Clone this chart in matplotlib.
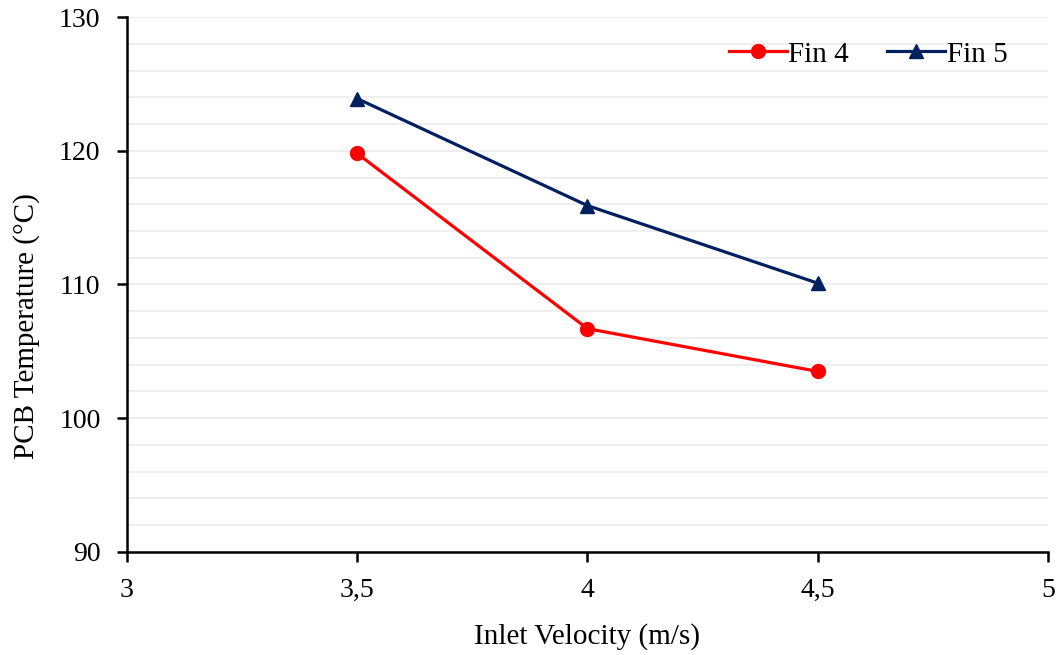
import matplotlib
matplotlib.use("Agg")
import matplotlib.pyplot as plt
from matplotlib.ticker import FuncFormatter, MultipleLocator

velocity = [3.5, 4.0, 4.5]
fin4 = [119.8, 106.7, 103.5]
fin5 = [123.9, 115.9, 110.1]

plt.rcParams["font.family"] = ["Liberation Serif", "DejaVu Serif"]

fig = plt.figure(figsize=(10.58, 6.55), dpi=100)
ax = fig.add_axes([0.120, 0.1573, 0.8705, 0.8167])

ax.plot(velocity, fin4, "-o", color="#ff0000", lw=2.3, ms=10, label="Fin 4", zorder=3)
ax.plot(velocity, fin5, "-^", color="#002060", lw=2.3, ms=10, label="Fin 5", zorder=3)

ax.set_xlim(3, 5); ax.set_ylim(90, 130)
ax.xaxis.set_major_locator(MultipleLocator(0.5))
ax.yaxis.set_major_locator(MultipleLocator(10))
ax.yaxis.set_minor_locator(MultipleLocator(2))
ax.xaxis.set_major_formatter(FuncFormatter(lambda v, _: f"{v:g}".replace(".", ",")))
ax.grid(axis="y", which="both", color="#efefef", lw=1.5, zorder=0)
ax.set_axisbelow(True)
ax.tick_params(which="major", direction="out", length=7, width=1.8, labelsize=20)
ax.tick_params(which="minor", length=0)
ax.tick_params(axis="x", pad=12)
ax.tick_params(axis="y", pad=12)
for s in ("top", "right"):
    ax.spines[s].set_visible(False)
for s in ("left", "bottom"):
    ax.spines[s].set_linewidth(1.8)

ax.set_xlabel("Inlet Velocity (m/s)", fontsize=21, labelpad=14)
ax.set_ylabel("PCB Temperature (°C)", fontsize=21, labelpad=14, y=0.422)
ax.legend(loc="center right", bbox_to_anchor=(0.972, 0.93), ncol=2, frameon=False,
          fontsize=21, handlelength=2.0, handletextpad=0.05, columnspacing=1.3,
          borderpad=0)

fig.savefig("out.png", dpi=100)
